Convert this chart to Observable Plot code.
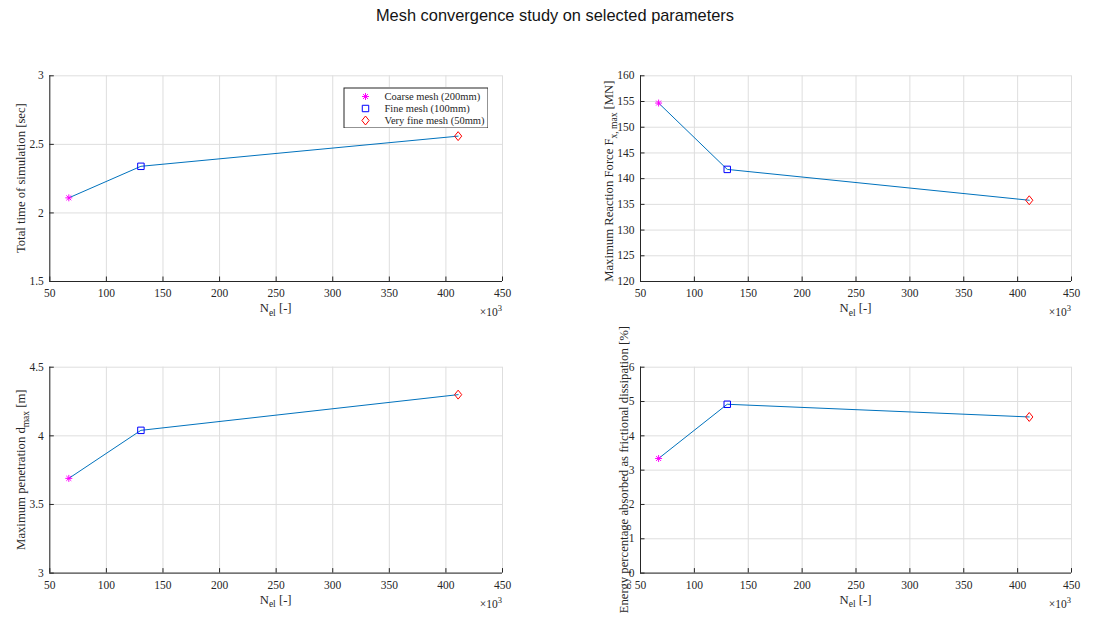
<!DOCTYPE html>
<html>
<head>
<meta charset="utf-8">
<script src="https://cdn.jsdelivr.net/npm/d3@7"></script>
<script src="https://cdn.jsdelivr.net/npm/@observablehq/plot@0.6"></script>
<style>
  body { margin: 0; background: #fff; }
  #root { position: relative; width: 1110px; height: 618px; overflow: hidden; background: #fff; }
  #title { position: absolute; left: 0; top: 6px; width: 1110px; text-align: center;
           font: 16.4px "Liberation Sans", Arial, sans-serif; color: #141414; }
  .panel { position: absolute; }
</style>
</head>
<body>
<div id="root">
  <div id="title">Mesh convergence study on selected parameters</div>
</div>
<script>
// ---------- data ----------
const meshLabels = ["Coarse mesh (200mm)", "Fine mesh (100mm)", "Very fine mesh (50mm)"];
const nEl = [66.8, 130.5, 410.8];               // number of elements (×10^3)
const xTicks = [50, 100, 150, 200, 250, 300, 350, 400, 450];

const simTime = [2.11, 2.34, 2.56];            // [sec]
const simTimeTicks = [1.5, 2, 2.5, 3];

const reactionForce = [154.7, 141.8, 135.8];   // [MN]
const reactionForceTicks = [120, 125, 130, 135, 140, 145, 150, 155, 160];

const penetration = [3.69, 4.04, 4.30];        // [m]
const penetrationTicks = [3, 3.5, 4, 4.5];

const energyPct = [3.34, 4.92, 4.55];          // [%]
const energyPctTicks = [0, 1, 2, 3, 4, 5, 6];

// ---------- styles ----------
const serif = "'Liberation Serif', 'Times New Roman', serif";
const axisColor = "#262626";
const gridColor = "#dedede";
const lineColor = "#0072BD";
const meshColors = ["#ff00ff", "#0000ff", "#ff0000"];

const asterisk8 = {
  draw(ctx, size) {
    const s = Math.sqrt(size) * 0.56, d = s * 0.7071;
    ctx.moveTo(-s, 0); ctx.lineTo(s, 0);
    ctx.moveTo(0, -s); ctx.lineTo(0, s);
    ctx.moveTo(-d, -d); ctx.lineTo(d, d);
    ctx.moveTo(-d, d); ctx.lineTo(d, -d);
  }
};
const squareSym = {
  draw(ctx, size) {
    const h = Math.sqrt(size) * 0.52;
    ctx.moveTo(-h, -h); ctx.lineTo(h, -h); ctx.lineTo(h, h); ctx.lineTo(-h, h); ctx.closePath();
  }
};
const diamondSym = {
  draw(ctx, size) {
    const s = Math.sqrt(size), hh = s * 0.72, hw = s * 0.58;
    ctx.moveTo(0, -hh); ctx.lineTo(hw, 0); ctx.lineTo(0, hh); ctx.lineTo(-hw, 0); ctx.closePath();
  }
};
const meshSymbols = [asterisk8, squareSym, diamondSym];

const root = document.getElementById("root");

function addLabelText(sel, parts, fontSize, subSize, supSize) {
  parts.forEach((p, i) => {
    const t = sel.append("tspan").text(p.t);
    if (p.sub) { t.attr("dy", 3.5).style("font-size", subSize + "px"); }
    else if (p.sup) { t.attr("dy", -5).style("font-size", supSize + "px"); }
    else {
      t.style("font-size", fontSize + "px");
      if (i > 0 && parts[i - 1].sub) t.attr("dy", -3.5);
      if (i > 0 && parts[i - 1].sup) t.attr("dy", 5);
    }
  });
}

function makePanel(cfg) {
  const data = meshLabels.map((mesh, i) => ({mesh, n: nEl[i], v: cfg.values[i]}));
  const yDomain = [cfg.ticks[0], cfg.ticks[cfg.ticks.length - 1]];
  const xDomain = [xTicks[0], xTicks[xTicks.length - 1]];
  const plot = Plot.plot({
    width: cfg.width,
    height: cfg.height,
    marginLeft: cfg.ml, marginRight: cfg.mr, marginTop: cfg.mt, marginBottom: cfg.mb,
    style: {fontFamily: serif, fontSize: "11.5px", color: axisColor, background: "transparent", overflow: "visible"},
    x: {domain: xDomain, axis: null},
    y: {domain: yDomain, axis: null},
    symbol: {domain: meshLabels, range: meshSymbols},
    color: {domain: meshLabels, range: meshColors},
    marks: [
      Plot.gridX(xTicks, {stroke: gridColor, strokeOpacity: 1}),
      Plot.gridY(cfg.ticks, {stroke: gridColor, strokeOpacity: 1}),
      Plot.ruleX([xDomain[0]], {stroke: axisColor}),
      Plot.ruleY([yDomain[0]], {stroke: axisColor}),
      Plot.axisX(xTicks, {anchor: "bottom", tickSize: -4.5, tickPadding: 12.3, label: null, tickFormat: d3.format("~g")}),
      Plot.axisY(cfg.ticks, {anchor: "left", tickSize: -4.5, tickPadding: 10.5, label: null, tickFormat: d3.format("~g")}),
      Plot.line(data, {x: "n", y: "v", stroke: lineColor, strokeWidth: 1}),
      Plot.dot(data, {x: "n", y: "v", symbol: "mesh", stroke: "mesh", fill: "none", r: 3.5, strokeWidth: 1})
    ]
  });
  const svg = d3.select(plot);
  const [x0, x1] = plot.scale("x").range;
  const [y0, y1] = plot.scale("y").range;
  const cx = (x0 + x1) / 2, cy = (y0 + y1) / 2;

  const yl = svg.append("text")
    .attr("transform", `translate(${cfg.yLabelX},${cy + (cfg.yLabelShift || 0)}) rotate(-90)`)
    .attr("text-anchor", "middle").attr("fill", axisColor)
    .style("font-family", serif);
  addLabelText(yl, cfg.yLabel, 12.7, 9.5, 8);

  const xl = svg.append("text")
    .attr("x", cx).attr("y", y0 + 31)
    .attr("text-anchor", "middle").attr("fill", axisColor)
    .style("font-family", serif);
  addLabelText(xl, xLabel, 12.7, 9.5, 8);

  const ex = svg.append("text")
    .attr("x", x1).attr("y", y0 + 35)
    .attr("text-anchor", "end").attr("fill", axisColor)
    .style("font-family", serif);
  addLabelText(ex, xExponent, 11.5, 9.5, 8.5);

  const div = document.createElement("div");
  div.className = "panel";
  div.style.left = cfg.left + "px";
  div.style.top = cfg.top + "px";
  div.appendChild(plot);
  root.appendChild(div);
}

const xLabel = [{t: "N"}, {t: "el", sub: true}, {t: " [-]"}];
const xExponent = [{t: "×10"}, {t: "3", sup: true}];

makePanel({
  left: 0, top: 45, width: 555, height: 280, ml: 49.3, mr: 53, mt: 30.3, mb: 44,
  values: simTime, ticks: simTimeTicks, yLabelX: 25,
  yLabel: [{t: "Total time of simulation [sec]"}]
});
makePanel({
  left: 555, top: 45, width: 555, height: 280, ml: 85, mr: 39, mt: 30.3, mb: 44,
  values: reactionForce, ticks: reactionForceTicks, yLabelX: 58, yLabelShift: 3,
  yLabel: [{t: "Maximum Reaction Force F"}, {t: "x, max", sub: true}, {t: " [MN]"}]
});
makePanel({
  left: 0, top: 318, width: 555, height: 300, ml: 49.3, mr: 53, mt: 48.7, mb: 45.4,
  values: penetration, ticks: penetrationTicks, yLabelX: 25,
  yLabel: [{t: "Maximum penetration d"}, {t: "max", sub: true}, {t: " [m]"}]
});
makePanel({
  left: 555, top: 318, width: 555, height: 300, ml: 85, mr: 39, mt: 48.7, mb: 45.4,
  values: energyPct, ticks: energyPctTicks, yLabelX: 73,
  yLabel: [{t: "Energy percentage absorbed as frictional dissipation [%]"}]
});

// ---------- legend (top-left panel) ----------
const legend = Plot.plot({
  width: 145, height: 41, margin: 0,
  style: {fontFamily: serif, fontSize: "10.5px", color: axisColor, background: "#fff"},
  y: {type: "point", domain: meshLabels, range: [8.5, 32.5], padding: 0, axis: null},
  symbol: {domain: meshLabels, range: meshSymbols},
  color: {domain: meshLabels, range: meshColors},
  marks: [
    Plot.frame({stroke: axisColor, inset: 0.5}),
    Plot.dot(meshLabels, {y: d => d, frameAnchor: "left", dx: 22, symbol: d => d, stroke: d => d, fill: "none", r: 3.5, strokeWidth: 1}),
    Plot.text(meshLabels, {y: d => d, text: d => d, frameAnchor: "left", dx: 41, textAnchor: "start", fill: axisColor})
  ]
});
const ldiv = document.createElement("div");
ldiv.className = "panel";
ldiv.style.left = "343px";
ldiv.style.top = "87px";
ldiv.appendChild(legend);
root.appendChild(ldiv);
</script>
</body>
</html>
